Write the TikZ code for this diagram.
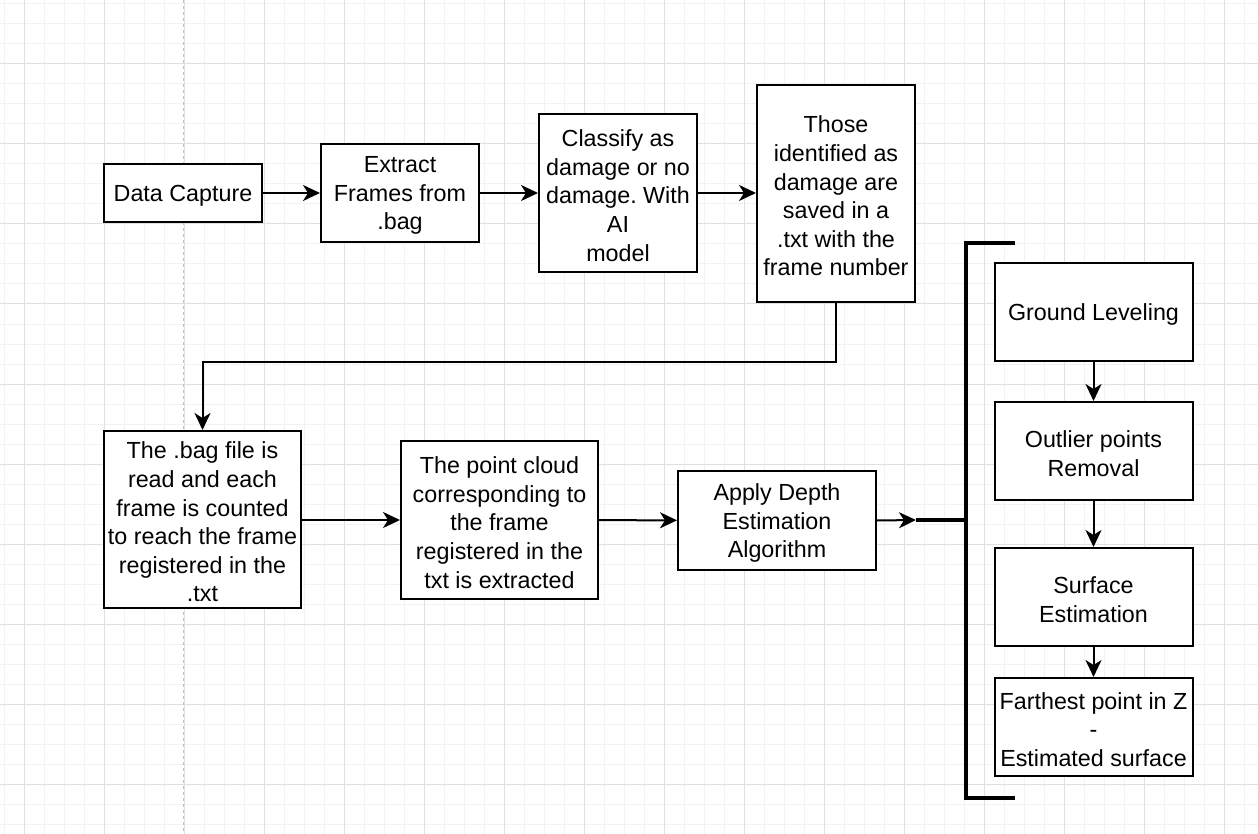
\documentclass[tikz,border=0pt]{standalone}
\usepackage{fontspec}
\setmainfont{Liberation Sans}
\usetikzlibrary{arrows.meta}
\definecolor{gridminor}{HTML}{F2F2F2}
\definecolor{gridmajor}{HTML}{E0E0E0}
\definecolor{guide}{HTML}{C0C0C0}
\begin{document}
\frenchspacing
\begin{tikzpicture}[x=1pt,y=-1pt,
  box/.style={draw, line width=2pt, fill=white, inner sep=0pt},
  lbl/.style={align=center, inner sep=0pt, yshift=-2.5pt,
    font=\fontsize{23.3}{28.6}\selectfont},
  conn/.style={line width=2pt, -{Stealth[length=17pt,width=16pt,inset=5pt]}},
  bracketline/.style={line width=4pt},
  minorgrid/.style={gridminor, line width=1pt},
  majorgrid/.style={gridmajor, line width=1pt}]
\useasboundingbox[fill=white] (0,0) rectangle (1258,834);
% grid
\foreach \g in {4,24,...,1254} \draw[minorgrid] (\g,0) -- (\g,834);
\foreach \g in {4,24,...,834} \draw[minorgrid] (0,\g) -- (1258,\g);
\foreach \g in {24,104,...,1254} \draw[majorgrid] (\g,0) -- (\g,834);
\foreach \g in {64,144,...,834} \draw[majorgrid] (0,\g) -- (1258,\g);
\draw[guide, dashed, line width=1pt] (183,0) -- (183,834);

% nodes
\node[box, minimum width=158pt, minimum height=58pt, label={[lbl]center:{Data Capture}}] (capture) at (183,193) {};
\node[box, minimum width=158pt, minimum height=98pt, label={[lbl]center:{Extract\\Frames from\\.bag}}] (extract) at (400,193) {};
\node[box, minimum width=158pt, minimum height=158pt, label={[lbl]center:{Classify as\\damage or no\\damage. With\\AI\\model}}] (classify) at (618,193) {};
\node[box, minimum width=158pt, minimum height=217pt, label={[lbl]center:{Those\\identified as\\damage are\\saved in a\\.txt with the\\frame number}}] (those) at (836,193.5) {};
\node[box, minimum width=197pt, minimum height=177pt, label={[lbl]center:{The .bag file is\\read and each\\frame is counted\\to reach the frame\\registered in the\\.txt}}] (bag) at (202.5,519.5) {};
\node[box, minimum width=197pt, minimum height=158pt, label={[lbl]center:{The point cloud\\corresponding to\\the frame\\registered in the\\txt is extracted}}] (cloud) at (499.5,520) {};
\node[box, minimum width=198pt, minimum height=99pt, label={[lbl]center:{Apply Depth\\Estimation\\Algorithm}}] (depth) at (777,520.5) {};
\node[box, minimum width=198pt, minimum height=98pt, label={[lbl]center:{Ground Leveling}}] (ground) at (1093.5,312) {};
\node[box, minimum width=198pt, minimum height=98pt, label={[lbl]center:{Outlier points\\Removal}}] (outlier) at (1093.5,451) {};
\node[box, minimum width=198pt, minimum height=98pt, label={[lbl]center:{Surface\\Estimation}}] (surface) at (1093.5,597) {};
\node[box, minimum width=198pt, minimum height=98pt, label={[lbl]center:{Farthest point in Z\\-\\Estimated surface}}] (farthest) at (1093.5,727) {};

% bracket
\coordinate (btop) at (1015,243);
\coordinate (bbot) at (1015,798);
\coordinate (bjoin) at (966,520);
\coordinate (btip) at (916,520);
\draw[bracketline] (btop) -- (966,243) -- (966,798) -- (bbot);
\draw[bracketline] (btip) -- (bjoin);

% connectors
\draw[conn] (capture) -- (extract);
\draw[conn] (extract) -- (classify);
\draw[conn] (classify.east |- capture.east) -- (those.west |- capture.east);
\draw[conn] (those.south) -- ++(0,59) -| (bag.north);
\draw[conn] (bag.east |- cloud.east) -- (cloud.west);
\draw[conn] (cloud) -- (depth);
\draw[conn] (depth.east) -- (btip);
\draw[conn] (ground) -- (outlier);
\draw[conn] (outlier) -- (surface);
\draw[conn] (surface) -- (farthest);
\end{tikzpicture}
\end{document}
